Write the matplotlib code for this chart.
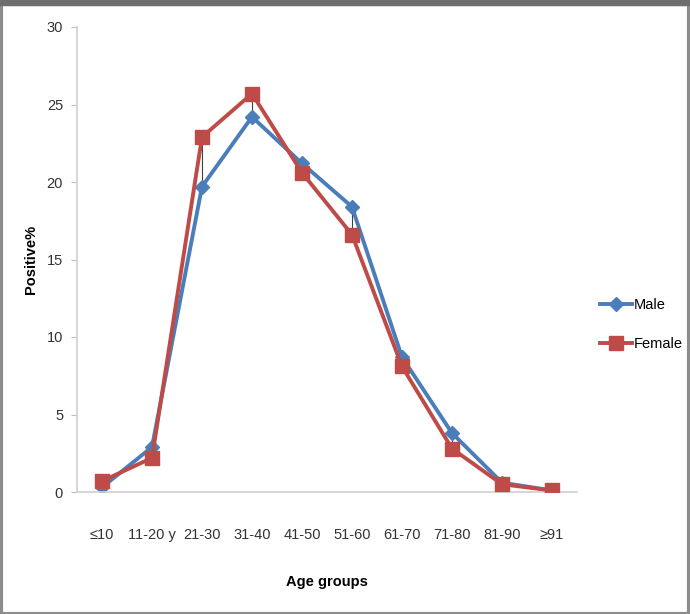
import matplotlib.pyplot as plt
import numpy as np
from matplotlib.patches import Rectangle

# data
age_groups = ["≤10", "11-20 y", "21-30", "31-40", "41-50", "51-60", "61-70", "71-80", "81-90", "≥91"]
male = [0.3, 2.9, 19.7, 24.2, 21.2, 18.4, 8.7, 3.8, 0.6, 0.1]
female = [0.7, 2.2, 22.9, 25.7, 20.6, 16.6, 8.1, 2.8, 0.5, 0.1]

plt.rcParams['font.family'] = ['Liberation Sans', 'DejaVu Sans']

fig = plt.figure(figsize=(6.9, 6.14), dpi=100)
ax = fig.add_axes([77 / 690, 1 - 492 / 614, 500 / 690, 465 / 614])

x = np.arange(len(age_groups))

# high-low lines between the two series
ax.vlines(x, np.minimum(male, female), np.maximum(male, female),
          color="#404040", linewidth=0.8, zorder=1)

ax.plot(x, male, color="#4A7EBB", linewidth=2.8, marker="D",
        markersize=7, label="Male", zorder=2)
ax.plot(x, female, color="#BE4B48", linewidth=2.8, marker="s",
        markersize=10, label="Female", zorder=3)

ax.set_xlim(-0.5, len(age_groups) - 0.5)
ax.set_ylim(0, 30)
ax.set_yticks(range(0, 31, 5))
ax.set_xticks(x)
ax.set_xticklabels(age_groups)
ax.tick_params(axis="x", length=0, pad=26, labelsize=10.5, colors="#333333")
ax.tick_params(axis="y", length=4, color="#BFBFBF", labelsize=10.5,
               labelcolor="#333333", pad=6)

for side in ["top", "right"]:
    ax.spines[side].set_visible(False)
for side in ["left", "bottom"]:
    ax.spines[side].set_color("#D0D0D0")
    ax.spines[side].set_linewidth(1.2)

ax.set_xlabel("Age groups", fontweight="bold", fontsize=10.5, labelpad=24)
ax.set_ylabel("Positive%", fontweight="bold", fontsize=10.5)
ax.yaxis.set_label_coords(-0.078, 0.5)

ax.legend(loc="center left", bbox_to_anchor=(1.02, 0.36), frameon=False,
          fontsize=10.5, handlelength=2.2, labelspacing=1.7, handletextpad=0.1)

# gray frame around the picture
fig.patches.append(Rectangle((0.002, 0.0), 0.996, 0.994, transform=fig.transFigure,
                             fill=False, edgecolor="#8C8C8C", linewidth=3))
fig.patches.append(Rectangle((0, 0.992), 1, 0.008, transform=fig.transFigure,
                             color="#6E6E6E"))

fig.savefig("out.png", dpi=100)
